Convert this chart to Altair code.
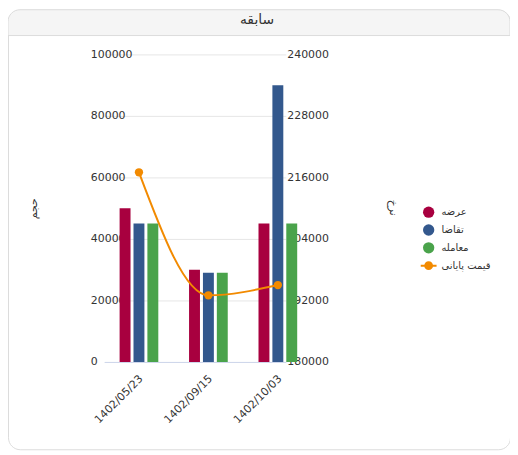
import altair as alt
import pandas as pd

TITLE = "سابقه"
DATES = ["1402/05/23", "1402/09/15", "1402/10/03"]
SERIES = ["عرضه", "تقاضا", "معامله"]
LINE_NAME = "قیمت پایانی"
SUPPLY = [50000, 30000, 45000]
DEMAND = [45000, 29000, 90000]
TRADE = [45000, 29000, 45000]
CLOSE = [217000, 193000, 195000]
VOL_TICKS = [0, 20000, 40000, 60000, 80000, 100000]
PRICE_TICKS = [180000, 192000, 204000, 216000, 228000, 240000]
COLORS = ["#a8003f", "#33588d", "#4aa34b", "#f28a00"]
LEFT_TITLE = "حجم"
RIGHT_TITLE = "نرخ"

FONT = "DejaVu Sans"
TXT = "#333333"
W, H = 506, 443
HEADER_H = 26

ALL_SERIES = SERIES + [LINE_NAME]

bars_df = pd.DataFrame({
    "date": [d for s in SERIES for d in DATES],
    "series": [s for s in SERIES for d in DATES],
    "value": SUPPLY + DEMAND + TRADE,
})
line_df = pd.DataFrame({"date": DATES, "series": [LINE_NAME] * len(DATES), "price": CLOSE})
legend_df = pd.DataFrame({"series": ALL_SERIES})
title_df = pd.DataFrame({"t": [TITLE]})

# layout of the x band scale (view pixels)
XR = [97, 280]
STEP = 70.0
BAND = (XR[1] - XR[0]) - 2 * STEP
P_INNER = 1 - BAND / STEP
BANDPOS = 35.0 / BAND
YR = [355, 45]

x_scale = alt.Scale(domain=DATES, range=XR, paddingInner=P_INNER, paddingOuter=0)
color_scale = alt.Scale(domain=ALL_SERIES, range=COLORS)

LEG_PATH = ("M-1.4,-0.18L1.4,-0.18L1.4,0.18L-1.4,0.18Z"
            "M-0.78,0A0.78,0.78,0,1,1,0.78,0A0.78,0.78,0,1,1,-0.78,0Z")
shape_scale = alt.Scale(domain=ALL_SERIES, range=["circle", "circle", "circle", LEG_PATH])

x_axis = alt.Axis(title=None, labelAngle=-45, labelAlign="right", labelBaseline="middle",
                  labelPadding=15, labelOffset=16, ticks=False, tickSize=0,
                  domainColor="#ccd6eb", domainWidth=1, grid=False, offset=-88)

left_axis = alt.Axis(values=VOL_TICKS, format="d", grid=True, gridColor="#e6e6e6",
                     domain=False, ticks=False, tickSize=0, labelAlign="left",
                     labelPadding=15, offset=-98, orient="left",
                     title=LEFT_TITLE, titleX=-72, titleY=200, titleBaseline="middle")

right_axis = alt.Axis(values=PRICE_TICKS, format="d", grid=False, domain=False,
                      ticks=False, tickSize=0, labelAlign="left", labelPadding=2,
                      offset=-(W - 279), orient="right",
                      title=RIGHT_TITLE, titleX=109, titleY=199, titleBaseline="middle")

leg_props = dict(title=None, orient="none", legendX=418, legendY=198, symbolSize=130,
                 symbolOpacity=1, symbolStrokeWidth=0, labelFont=FONT, labelFontSize=10,
                 labelColor=TXT, labelOffset=7, rowPadding=6, padding=0)

header = alt.Chart(title_df).mark_rect(
    fill="#f5f5f5", stroke="#dcdcdc", strokeWidth=1,
    cornerRadiusTopLeft=12, cornerRadiusTopRight=12,
).encode(x=alt.value(0), x2=alt.value(W), y=alt.value(0), y2=alt.value(HEADER_H))

title = alt.Chart(title_df).mark_text(
    font=FONT, fontSize=14, color=TXT, align="center", baseline="middle",
).encode(x=alt.value(W / 2 - 2), y=alt.value(10), text="t:N")

bars = alt.Chart(bars_df).mark_bar().encode(
    x=alt.X("date:N", scale=x_scale, axis=x_axis, sort=DATES),
    xOffset=alt.XOffset("series:N", sort=SERIES,
                        scale=alt.Scale(domain=SERIES, range=[15.5, 54.5],
                                        paddingInner=3 / 14, paddingOuter=0)),
    y=alt.Y("value:Q", scale=alt.Scale(domain=[0, 100000], range=YR, nice=False, zero=True),
            axis=left_axis),
    color=alt.Color("series:N", scale=color_scale, legend=alt.Legend(**leg_props)),
)

price_y = alt.Y("price:Q", scale=alt.Scale(domain=[180000, 240000], range=YR, nice=False, zero=False),
                axis=right_axis)
line_x = alt.X("date:N", scale=x_scale, axis=x_axis, sort=DATES, bandPosition=BANDPOS)

line = alt.Chart(line_df).mark_line(color=COLORS[3], strokeWidth=2, interpolate="monotone").encode(
    x=line_x, y=price_y)
points = alt.Chart(line_df).mark_circle(color=COLORS[3], size=70, opacity=1).encode(
    x=line_x, y=price_y)

legend_layer = alt.Chart(legend_df).mark_point(filled=True, opacity=0, size=130).encode(
    color=alt.Color("series:N", scale=color_scale, legend=alt.Legend(**leg_props)),
    shape=alt.Shape("series:N", scale=shape_scale, legend=alt.Legend(**leg_props)),
)

chart = alt.layer(
    header, title, bars, alt.layer(line, points), legend_layer
).resolve_scale(
    y="independent"
).properties(
    width=W, height=H, autosize=alt.AutoSizeParams(type="none"), padding=0, background="white"
).configure_view(
    stroke="#dcdcdc", cornerRadius=12, fill="white"
).configure_axis(
    labelFont=FONT, titleFont=FONT, labelFontSize=11, titleFontSize=11,
    labelColor=TXT, titleColor=TXT, titleFontWeight="normal"
)

chart.save("out.html", embed_options={"renderer": "svg", "actions": False})
